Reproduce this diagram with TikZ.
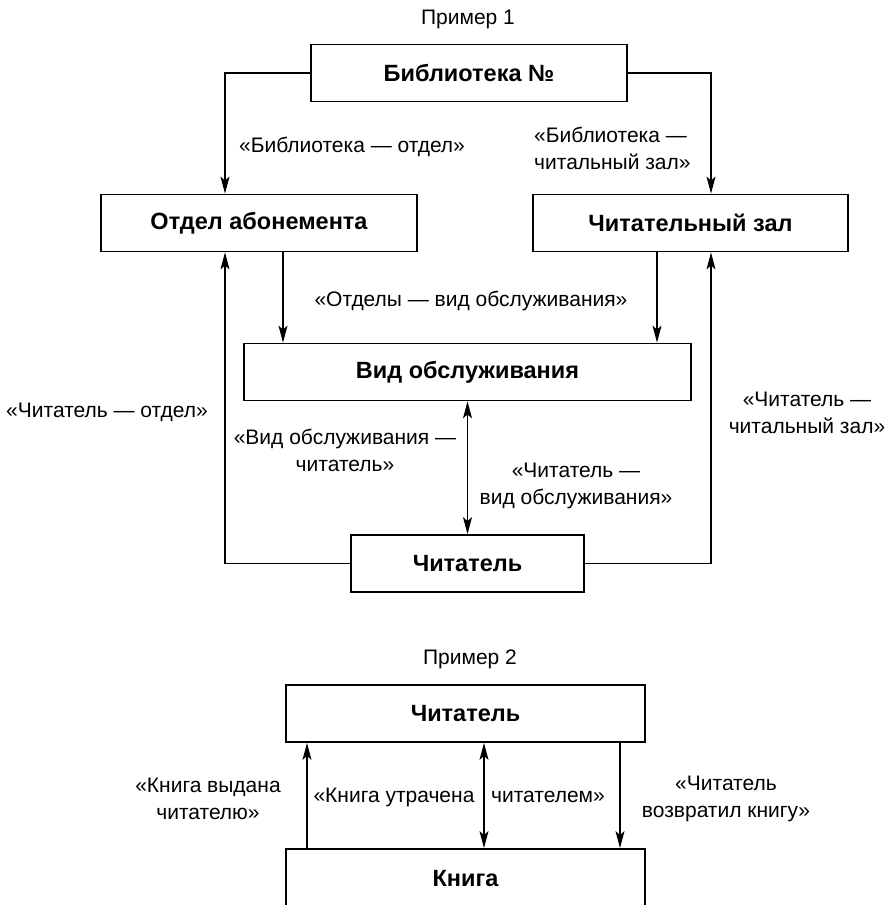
\documentclass[tikz,border=0pt]{standalone}
\usepackage{fontspec}
\setmainfont{Liberation Sans}
\usetikzlibrary{arrows.meta}
\begin{document}
\begin{tikzpicture}[x=1pt,y=-1pt,
  box/.style={draw, line width=1.8pt, font=\fontsize{23.5}{28}\selectfont\bfseries, inner sep=0pt},
  lbl/.style={font=\fontsize{21}{27}\selectfont, align=center, inner sep=0pt},
  tip/.style={Stealth[length=17pt,width=9pt,inset=4pt]},
  conn/.style={line width=1.1pt, -{Stealth[length=17pt,width=9pt,inset=4pt]}},
  conn2/.style={line width=1.1pt, {Stealth[length=17pt,width=9pt,inset=4pt]}-{Stealth[length=17pt,width=9pt,inset=4pt]}}]
\useasboundingbox (0,0) rectangle (884,905);
\clip (0,0) rectangle (884,905);

% Example 1
\node[lbl] (t1) at (468,19) {Пример 1};
\node[box, minimum width=316pt, minimum height=57pt] (lib) at (469,73) {Библиотека №};
\node[box, minimum width=316pt, minimum height=57pt] (otdel) at (259,223) {Отдел абонемента};
\node[box, minimum width=315pt, minimum height=57pt] (zal) at (690.5,223) {Читательный зал};
\node[box, minimum width=447pt, minimum height=57pt] (vid) at (467.5,372) {Вид обслуживания};
\node[box, minimum width=233pt, minimum height=57pt] (r1) at (467.5,563.5) {Читатель};

\draw[conn] (lib.west) -| ([xshift=-34pt]otdel.north);
\draw[conn] (lib.east) -| ([xshift=20.5pt]zal.north);
\draw[conn] ([xshift=24pt]otdel.south) -- ([xshift=24pt]otdel.south |- vid.north);
\draw[conn] ([xshift=-33.5pt]zal.south) -- ([xshift=-33.5pt]zal.south |- vid.north);
\draw[conn] (r1.west) -| ([xshift=-34pt]otdel.south);
\draw[conn] (r1.east) -| ([xshift=20.5pt]zal.south);
\draw[conn2] (vid.south) -- (r1.north);

\node[lbl] (l1) at (352,147) {«Библиотека — отдел»};
\node[lbl, align=left, anchor=west] (l2) at (534,148) {«Библиотека —\\читальный зал»};
\node[lbl] (l3) at (471,301) {«Отделы — вид обслуживания»};
\node[lbl] (l4) at (107,412) {«Читатель — отдел»};
\node[lbl] (l5) at (807,413) {«Читатель —\\читальный зал»};
\node[lbl] (l6) at (345,450) {«Вид обслуживания —\\читатель»};
\node[lbl] (l7) at (576,486) {«Читатель —\\вид обслуживания»};

% Example 2
\node[lbl] (t2) at (470,659) {Пример 2};
\node[box, minimum width=359pt, minimum height=57pt] (r2) at (465.5,713.5) {Читатель};
\node[box, minimum width=359pt, minimum height=60pt] (kn) at (465.5,879) {Книга};

\draw[conn] ([xshift=-158.5pt]kn.north) -- ([xshift=-158.5pt]kn.north |- r2.south);
\draw[conn2] ([xshift=18.5pt]kn.north) -- ([xshift=18.5pt]kn.north |- r2.south);
\draw[conn] ([xshift=154.5pt]r2.south) -- ([xshift=154.5pt]r2.south |- kn.north);

\node[lbl] (l8) at (208,799) {«Книга выдана\\читателю»};
\node[lbl] (l9) at (394,797) {«Книга утрачена};
\node[lbl] (l10) at (548,797) {читателем»};
\node[lbl] (l11) at (726,799) {«Читатель\\возвратил книгу»};
\end{tikzpicture}
\end{document}
